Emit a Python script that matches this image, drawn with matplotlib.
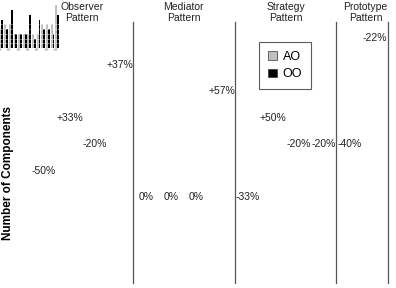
import numpy as np
import matplotlib
matplotlib.use("Agg")
import matplotlib.pyplot as plt

plt.rcParams['font.family'] = ['Liberation Sans', 'DejaVu Sans']

# data
patterns = ['Observer\nPattern', 'Mediator\nPattern', 'Strategy\nPattern', 'Prototype\nPattern']
group_sizes = [4, 4, 4, 2]
ao = [4, 4, 5, 5, 3, 3, 3, 3, 3, 3, 5, 5, 5, 9]
oo = [2, 6, 4, 8, 3, 3, 3, 7, 2, 6, 4, 4, 3, 7]
pct_labels = ['-50%', '+33%', '-20%', '+37%',
              '0%', '0%', '0%', '+57%',
              '-33%', '+50%', '-20%', '-20%',
              '-40%', '-22%']

W, H = 396, 288
fig = plt.figure(figsize=(W / 100, H / 100), dpi=100)

# main (empty) axes holding the labels and separators
ax = fig.add_axes([31.3 / W, 1 - 283 / H, 356 / W, 261 / H])
ax.set_xlim(-0.5, len(ao) - 0.5)
ax.set_ylim(0, 9.85)
for s in ax.spines.values():
    s.set_visible(False)
ax.set_xticks([])
ax.set_yticks([])

x = np.arange(len(ao))
tops = np.maximum(ao, oo)
for xi, t, lab in zip(x, tops, pct_labels):
    ax.annotate(lab, (xi, t), xytext=(0, 1.0), textcoords='offset points',
                ha='center', va='bottom', fontsize=7.5, color='#222222')

# group separators and titles
edges = np.cumsum(group_sizes) - 0.5
for e in edges:
    ax.axvline(e + (0.03 if e == edges[-1] else 0), ymin=0, ymax=1,
               color='#555555', lw=0.9, clip_on=False)
starts = np.concatenate([[0], np.cumsum(group_sizes)[:-1]])
centers = starts + (np.array(group_sizes) - 1) / 2
centers[-1] += 0.15
for c, name in zip(centers, patterns):
    ax.text(c, 1.035, name, transform=ax.get_xaxis_transform(), ha='center',
            va='center', fontsize=7.5, color='#222222', clip_on=False,
            linespacing=1.1)

fig.text(8 / W, 1 - 173 / H, 'Number of Components', rotation=90,
         ha='center', va='center', fontsize=8.5, fontweight='bold')

# the tiny bar chart in the top-left corner
ins = fig.add_axes([-6 / W, 1 - 48 / H, 66 / W, 45 / H])
bw = 0.4
b1 = ins.bar(x - bw / 2, ao, bw, color='#c0c0c0', label='AO')
b2 = ins.bar(x + bw / 2, oo, bw, color='black', label='OO')
ins.set_xlim(-0.6, len(ao) - 0.4)
ins.set_ylim(0, 9.5)
ins.set_yticks(np.arange(1, 6))
ins.yaxis.grid(True, color='white', lw=0.4, ls=(0, (2, 1)))
ins.set_axisbelow(False)
for s in ins.spines.values():
    s.set_visible(False)
ins.tick_params(axis='y', length=0, labelleft=False)
ins.set_xticks(np.arange(0.5, len(ao), 2))
ins.tick_params(axis='x', length=1.5, width=2.5, color='#bbbbbb',
                labelbottom=False)

leg = fig.legend(handles=[b1, b2], labels=['AO', 'OO'], loc='upper left',
                 bbox_to_anchor=(259 / W, 1 - 42 / H), fontsize=9,
                 frameon=True, fancybox=False, edgecolor='#333333',
                 handlelength=0.7, handleheight=0.7, handletextpad=0.5,
                 borderpad=0.7, labelspacing=0.45, borderaxespad=0)
leg.get_frame().set_linewidth(0.8)
for h in leg.legend_handles:
    h.set_edgecolor('#333333')
    h.set_linewidth(0.5)

fig.savefig('out.png', dpi=100)
